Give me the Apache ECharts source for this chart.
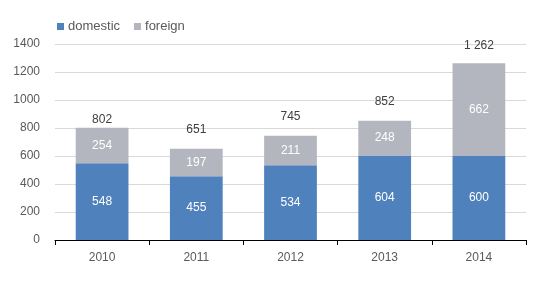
<!DOCTYPE html>
<html>
<head>
<meta charset="utf-8">
<script src="https://cdn.jsdelivr.net/npm/echarts@6/dist/echarts.min.js"></script>
<style>html,body{margin:0;padding:0;background:#fff}#c{width:550px;height:282px}</style>
</head>
<body>
<div id="c"></div>
<script>
const years = ['2010', '2011', '2012', '2013', '2014'];
const domestic = [548, 455, 534, 604, 600];
const foreign = [254, 197, 211, 248, 662];
const totals = [802, 651, 745, 852, 1262];
const yTicks = { min: 0, max: 1400, interval: 200 };
const totalOffsets = [2, 13, 13, 13, 12];

const FONT = 'Liberation Sans';
function fmt(v) { return String(v).replace(/\B(?=(\d{3})+(?!\d))/g, ' '); }

const chart = echarts.init(document.getElementById('c'), null, { renderer: 'canvas' });
chart.setOption({
  animation: false,
  textStyle: { fontFamily: FONT },
  legend: {
    data: ['domestic', 'foreign'],
    left: 52, top: 15,
    itemWidth: 7, itemHeight: 7, itemGap: 14,
    icon: 'rect',
    textStyle: { fontSize: 13, color: '#595959', fontFamily: FONT, padding: [0, 0, 0, -1] }
  },
  grid: { left: 55, right: 24, top: 44, bottom: 42, containLabel: false },
  xAxis: {
    type: 'category', data: years,
    axisLine: { lineStyle: { color: '#000', width: 1 } },
    axisTick: { show: true, length: 5, lineStyle: { color: '#000' } },
    axisLabel: { color: '#595959', fontSize: 12, margin: 12, fontFamily: FONT }
  },
  yAxis: {
    type: 'value', min: yTicks.min, max: yTicks.max, interval: yTicks.interval,
    axisLine: { show: false }, axisTick: { show: false },
    splitLine: { lineStyle: { color: '#d9d9d9' } },
    axisLabel: { color: '#595959', fontSize: 12, margin: 15, fontFamily: FONT, formatter: v => String(v) }
  },
  series: [
    {
      name: 'domestic', type: 'bar', stack: 's', data: domestic, barWidth: '56%',
      itemStyle: { color: '#4f81bd' },
      label: { show: true, position: 'inside', color: '#fff', fontSize: 12, fontFamily: FONT }
    },
    {
      name: 'foreign', type: 'bar', stack: 's', data: foreign, barWidth: '56%',
      itemStyle: { color: '#b4b6bf' },
      label: { show: true, position: 'inside', color: '#fff', fontSize: 12, fontFamily: FONT }
    },
    {
      name: 'total', type: 'bar', stack: 's', barWidth: '56%',
      data: totals.map((t, i) => ({ value: 0, label: { distance: totalOffsets[i] } })),
      itemStyle: { color: 'transparent' },
      label: {
        show: true, position: 'top', color: '#404040', fontSize: 12, fontFamily: FONT,
        formatter: p => fmt(totals[p.dataIndex])
      }
    }
  ]
});
</script>
</body>
</html>
